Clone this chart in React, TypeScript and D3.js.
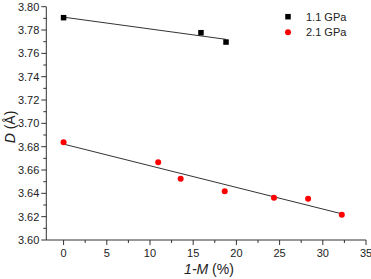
import React, { useEffect, useRef } from 'react';
import * as d3 from 'd3';

// 1.1 GPa series
const lowX = [0, 15.9, 18.8];
const lowD = [3.7906, 3.7777, 3.7697];

// 2.1 GPa series
const highX = [0, 10.95, 13.55, 18.65, 24.35, 28.3, 32.2];
const highD = [3.6837, 3.6666, 3.6525, 3.6417, 3.6363, 3.6354, 3.6217];

const seriesNames = ['1.1 GPa', '2.1 GPa'];
const xTicks = [0, 5, 10, 15, 20, 25, 30, 35];
const yTicks = [3.6, 3.62, 3.64, 3.66, 3.68, 3.7, 3.72, 3.74, 3.76, 3.78, 3.8];

const W = 371;
const H = 279;

// least-squares line through a series
function fit(xs: number[], ys: number[]) {
  const mx = d3.mean(xs)!;
  const my = d3.mean(ys)!;
  let sxy = 0, sxx = 0;
  xs.forEach((x, i) => {
    sxy += (x - mx) * (ys[i] - my);
    sxx += (x - mx) * (x - mx);
  });
  const k = sxy / sxx;
  const b = my - k * mx;
  const x0 = d3.min(xs)!;
  const x1 = d3.max(xs)!;
  return [[x0, b + k * x0], [x1, b + k * x1]] as [number, number][];
}

const App: React.FC = () => {
  const svgRef = useRef<SVGSVGElement>(null);

  useEffect(() => {
    if (!svgRef.current) return;
    const svg = d3.select(svgRef.current);
    svg.selectAll('*').remove();

    const x = d3.scaleLinear().domain([-2, 35]).range([46.3, 366]);
    const y = d3.scaleLinear().domain([3.6, 3.8]).range([240, 6.7]);
    const font = 'Liberation Sans, Arial, sans-serif';
    const axisColor = '#333';

    // y axis
    const yAxis = svg.append('g').attr('transform', `translate(${x(-2)},0)`);
    yAxis.append('line')
      .attr('x1', 0).attr('x2', 0)
      .attr('y1', y(3.6)).attr('y2', y(3.8))
      .attr('stroke', axisColor).attr('stroke-width', 1);
    d3.range(3.6, 3.8001, 0.01).forEach((v, i) => {
      yAxis.append('line')
        .attr('x1', 0).attr('x2', i % 2 === 0 ? -5 : -3)
        .attr('y1', y(v)).attr('y2', y(v))
        .attr('stroke', axisColor).attr('stroke-width', 1);
    });
    yAxis.selectAll('text.tick')
      .data(yTicks)
      .enter()
      .append('text')
      .attr('x', -7)
      .attr('y', d => y(d))
      .attr('dy', '0.35em')
      .attr('text-anchor', 'end')
      .attr('font-family', font)
      .attr('font-size', 11)
      .attr('fill', '#222')
      .text(d => d.toFixed(2));

    // x axis
    const xAxis = svg.append('g').attr('transform', `translate(0,${y(3.6)})`);
    xAxis.append('line')
      .attr('x1', x(-2)).attr('x2', x(35))
      .attr('y1', 0).attr('y2', 0)
      .attr('stroke', axisColor).attr('stroke-width', 1);
    d3.range(0, 35.01, 2.5).forEach((v, i) => {
      xAxis.append('line')
        .attr('x1', x(v)).attr('x2', x(v))
        .attr('y1', 0).attr('y2', i % 2 === 0 ? 5 : 3)
        .attr('stroke', axisColor).attr('stroke-width', 1);
    });
    xAxis.selectAll('text.tick')
      .data(xTicks)
      .enter()
      .append('text')
      .attr('x', d => x(d))
      .attr('y', 13)
      .attr('dy', '0.35em')
      .attr('text-anchor', 'middle')
      .attr('font-family', font)
      .attr('font-size', 11)
      .attr('fill', '#222')
      .text(d => d);

    // axis titles
    const xt = svg.append('text')
      .attr('x', 209)
      .attr('y', 273.5)
      .attr('text-anchor', 'middle')
      .attr('font-family', font)
      .attr('font-size', 14)
      .attr('fill', '#222');
    xt.append('tspan').attr('font-style', 'italic').text('1-M');
    xt.append('tspan').text(' (%)');

    const yt = svg.append('text')
      .attr('transform', `translate(15,127) rotate(-90)`)
      .attr('text-anchor', 'middle')
      .attr('font-family', font)
      .attr('font-size', 14)
      .attr('fill', '#222');
    yt.append('tspan').attr('font-style', 'italic').text('D');
    yt.append('tspan').text(' (Å)');

    // fit lines
    const line = d3.line<[number, number]>()
      .x(d => x(d[0]))
      .y(d => y(d[1]));
    [fit(lowX, lowD), fit(highX, highD)].forEach(pts => {
      svg.append('path')
        .attr('d', line(pts))
        .attr('fill', 'none')
        .attr('stroke', '#333')
        .attr('stroke-width', 1);
    });

    // points
    const s = 5.5;
    svg.append('g')
      .selectAll('rect')
      .data(lowX.map((v, i) => [v, lowD[i]]))
      .enter()
      .append('rect')
      .attr('x', d => x(d[0]) - s / 2)
      .attr('y', d => y(d[1]) - s / 2)
      .attr('width', s)
      .attr('height', s)
      .attr('fill', '#000');

    svg.append('g')
      .selectAll('circle')
      .data(highX.map((v, i) => [v, highD[i]]))
      .enter()
      .append('circle')
      .attr('cx', d => x(d[0]))
      .attr('cy', d => y(d[1]))
      .attr('r', 3)
      .attr('fill', '#ff0000');

    // legend
    const legend = svg.append('g').attr('transform', 'translate(288,16.7)');
    legend.append('rect')
      .attr('x', -s / 2).attr('y', -s / 2)
      .attr('width', s).attr('height', s)
      .attr('fill', '#000');
    legend.append('circle')
      .attr('cx', 0).attr('cy', 15.5)
      .attr('r', 3)
      .attr('fill', '#ff0000');
    seriesNames.forEach((name, i) => {
      legend.append('text')
        .attr('x', 18)
        .attr('y', i * 15.5)
        .attr('dy', '0.35em')
        .attr('font-family', font)
        .attr('font-size', 11)
        .attr('fill', '#222')
        .text(name);
    });
  }, []);

  return (
    <div style={{ position: 'absolute', left: 0, top: 0, width: W, height: H }}>
      <svg ref={svgRef} width={W} height={H} style={{ display: 'block', background: '#fff' }} />
    </div>
  );
};

export default App;
